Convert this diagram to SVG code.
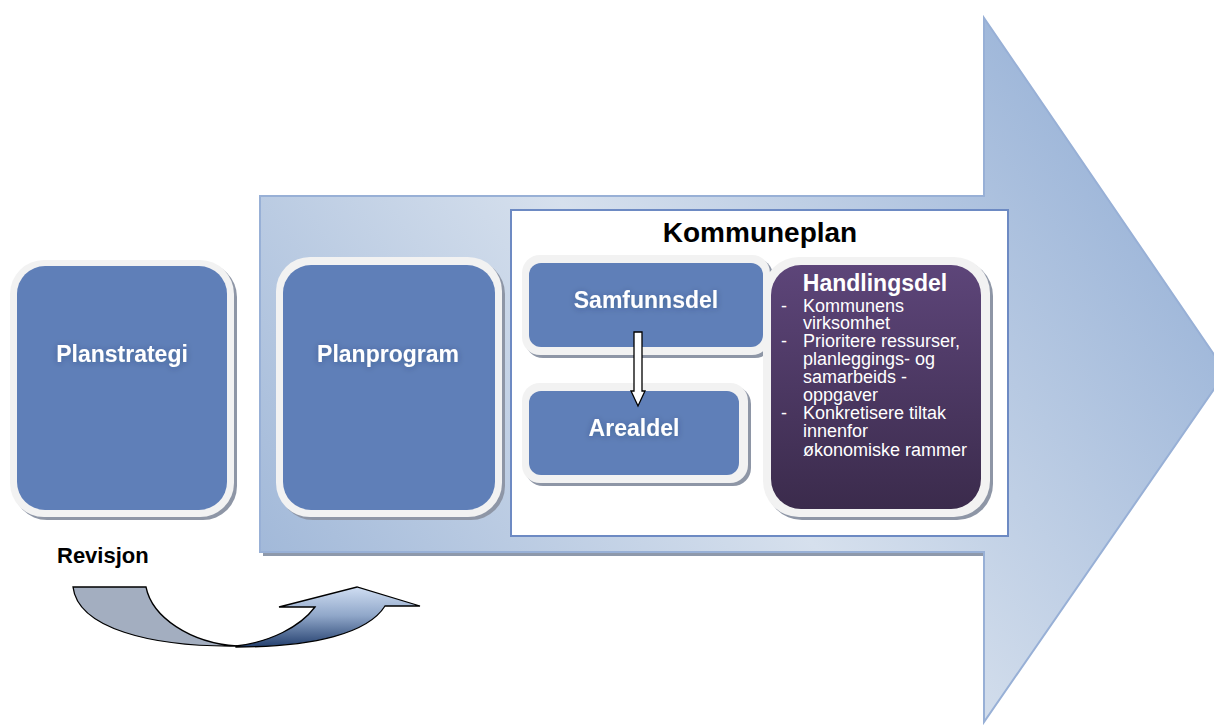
<svg xmlns="http://www.w3.org/2000/svg" width="1214" height="726" viewBox="0 0 1214 726">
  <defs>
    <linearGradient id="bigArrowGrad" gradientUnits="userSpaceOnUse" x1="260" y1="552" x2="984" y2="18">
      <stop offset="0" stop-color="#a2b9d9"/>
      <stop offset="0.5" stop-color="#d6e0ed"/>
      <stop offset="1" stop-color="#a0b8da"/>
    </linearGradient>
    <linearGradient id="purpleGrad" x1="0" y1="0" x2="0" y2="1">
      <stop offset="0" stop-color="#5d4579"/>
      <stop offset="1" stop-color="#3b2b4c"/>
    </linearGradient>
    <linearGradient id="revGrad" gradientUnits="userSpaceOnUse" x1="0" y1="590" x2="0" y2="647">
      <stop offset="0" stop-color="#c9d8ee"/>
      <stop offset="0.45" stop-color="#90a7c9"/>
      <stop offset="1" stop-color="#24406f"/>
    </linearGradient>
    <filter id="glow" x="-20%" y="-50%" width="140%" height="200%">
      <feDropShadow dx="0" dy="1" stdDeviation="3" flood-color="#1a2a4a" flood-opacity="0.3"/>
    </filter>
    <style>
      .shadow { fill: #8e96a6; }
      .frame { fill: #f2f2f2; }
      .blue { fill: #5f7fb8; }
      .lbl { font-family: "Liberation Sans", Arial, sans-serif; font-weight: bold; font-size: 23px; fill: #ffffff; text-anchor: middle; }
      .bul { font-family: "Liberation Sans", Arial, sans-serif; font-size: 18px; fill: #ffffff; }
      .title { font-family: "Liberation Sans", Arial, sans-serif; font-weight: bold; font-size: 28px; fill: #000000; text-anchor: middle; }
      .rev { font-family: "Liberation Sans", Arial, sans-serif; font-weight: bold; font-size: 22px; fill: #000000; }
    </style>
  </defs>

  <rect width="1214" height="726" fill="#ffffff"/>

  <!-- Big process arrow -->
  <g id="process-arrow">
    <rect x="263" y="551" width="721" height="5" fill="#8e99ab"/>
    <path d="M260,196 H984 V18 L1226,372 L984,722 V552 H260 Z" fill="url(#bigArrowGrad)" stroke="#98b0d6" stroke-width="2"/>
  </g>

  <!-- Kommuneplan container -->
  <g id="kommuneplan">
    <rect x="511" y="210" width="497" height="326" fill="#ffffff" stroke="#6d8ac3" stroke-width="2"/>
    <text class="title" x="760" y="242">Kommuneplan</text>
  </g>

  <!-- Planstrategi -->
  <g id="planstrategi">
    <rect class="shadow" x="13" y="263" width="224" height="257" rx="34"/>
    <rect class="frame" x="10" y="260" width="224" height="257" rx="34"/>
    <rect class="blue" x="17" y="266" width="210" height="244" rx="28"/>
    <text class="lbl" x="122" y="362" filter="url(#glow)">Planstrategi</text>
  </g>

  <!-- Planprogram -->
  <g id="planprogram">
    <rect class="shadow" x="279" y="260" width="226" height="260" rx="34"/>
    <rect class="frame" x="276" y="257" width="226" height="260" rx="34"/>
    <rect class="blue" x="283" y="265" width="212" height="245" rx="28"/>
    <text class="lbl" x="388" y="362" filter="url(#glow)">Planprogram</text>
  </g>

  <!-- Samfunnsdel -->
  <g id="samfunnsdel">
    <rect class="shadow" x="525" y="258" width="248" height="100" rx="18"/>
    <rect class="frame" x="522" y="255" width="248" height="100" rx="18"/>
    <rect class="blue" x="529" y="263" width="234" height="84" rx="12"/>
    <text class="lbl" x="646" y="308" filter="url(#glow)">Samfunnsdel</text>
  </g>

  <!-- Arealdel -->
  <g id="arealdel">
    <rect class="shadow" x="525" y="386" width="226" height="100" rx="18"/>
    <rect class="frame" x="522" y="383" width="226" height="100" rx="18"/>
    <rect class="blue" x="529" y="391" width="210" height="84" rx="12"/>
    <text class="lbl" x="634" y="436" filter="url(#glow)">Arealdel</text>
  </g>

  <!-- Handlingsdel -->
  <g id="handlingsdel">
    <rect class="shadow" x="766" y="260" width="227" height="260" rx="36"/>
    <rect class="frame" x="763" y="257" width="227" height="260" rx="36"/>
    <rect x="771" y="265" width="210" height="244" rx="30" fill="url(#purpleGrad)"/>
    <text class="lbl" x="875" y="291">Handlingsdel</text>
    <text class="bul" x="781" y="312">-</text>
    <text class="bul" x="803" y="312">Kommunens</text>
    <text class="bul" x="803" y="329">virksomhet</text>
    <text class="bul" x="781" y="347">-</text>
    <text class="bul" x="803" y="347">Prioritere ressurser,</text>
    <text class="bul" x="803" y="365">planleggings- og</text>
    <text class="bul" x="803" y="383">samarbeids -</text>
    <text class="bul" x="803" y="401">oppgaver</text>
    <text class="bul" x="781" y="419">-</text>
    <text class="bul" x="803" y="419">Konkretisere tiltak</text>
    <text class="bul" x="803" y="437">innenfor</text>
    <text class="bul" x="803" y="456">økonomiske rammer</text>
  </g>

  <!-- Connectors -->
  <g id="connectors">
    <path d="M634,332 H642 V391 H645 L638,406 L631,391 H634 Z" fill="#ffffff" stroke="#000000" stroke-width="1.3" stroke-linejoin="miter"/>
  </g>

  <!-- Revisjon -->
  <g id="revisjon">
    <text class="rev" x="57" y="563">Revisjon</text>
    <path d="M73,587 H146 C152,617 190,643 237,646 C150,647 78,628 73,587 Z" fill="#a3aec0" stroke="#000000" stroke-width="1.3"/>
    <path d="M236,646 C270,642 300,627 315,607 H279 L357,587 L420,606 H385 C368,633 315,647 236,647 Z" fill="url(#revGrad)" stroke="#000000" stroke-width="1.3" stroke-linejoin="miter"/>
  </g>
</svg>
